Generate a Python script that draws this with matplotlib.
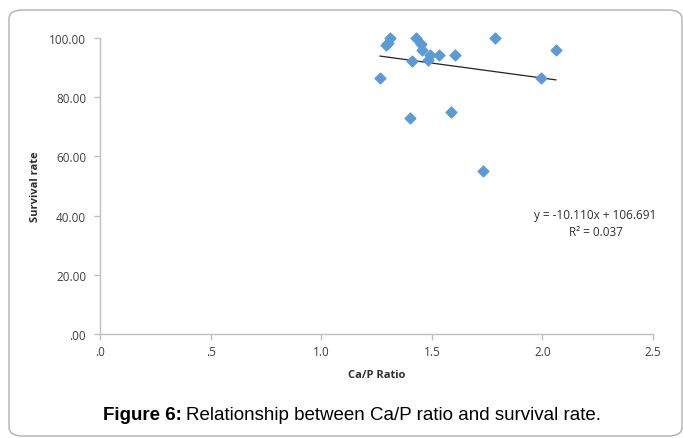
import matplotlib
matplotlib.use('Agg')
import matplotlib.pyplot as plt
from matplotlib.patches import FancyBboxPatch
from matplotlib.ticker import FuncFormatter

# Ca/P ratio vs survival rate
ca_p_ratio = [1.266, 1.293, 1.302, 1.311, 1.401, 1.410, 1.429, 1.451, 1.456,
              1.483, 1.492, 1.533, 1.587, 1.605, 1.731, 1.786, 1.994, 2.061]
survival = [86.5, 97.6, 98.3, 100.0, 73.0, 92.2, 100.0, 98.0, 96.0,
            92.4, 94.3, 94.3, 75.0, 94.3, 55.0, 100.0, 86.5, 96.0]

slope = -10.110
intercept = 106.691
r2 = 0.037

W, H = 683, 439
fig = plt.figure(figsize=(W / 100, H / 100), dpi=100)

# rounded frame around the chart
frame = FancyBboxPatch((9 / W, 2 / H), 673 / W, 426 / H,
                       boxstyle="round,pad=0,rounding_size=0.02",
                       transform=fig.transFigure, fill=False,
                       edgecolor='#b0b0b0', linewidth=1.0, clip_on=False)
fig.patches.append(frame)

ax = fig.add_axes([100 / W, (H - 335) / H, 553 / W, 296 / H])

ax.scatter(ca_p_ratio, survival, marker='D', s=30, color='#5b9bd5',
           edgecolors='#5b9bd5', zorder=3, clip_on=False)

x0, x1 = min(ca_p_ratio), max(ca_p_ratio)
ax.plot([x0, x1], [slope * x0 + intercept, slope * x1 + intercept],
        color='#222222', linewidth=0.9, zorder=2)

ax.set_xlim(0, 2.5)
ax.set_ylim(0, 100)
ax.set_xticks([0, 0.5, 1.0, 1.5, 2.0, 2.5])
ax.set_yticks([0, 20, 40, 60, 80, 100])


def fmt_x(v, pos):
    s = f"{v:.1f}"
    return s[1:] if s.startswith('0') else s


def fmt_y(v, pos):
    s = f"{v:.2f}"
    return s[1:] if s.startswith('0') else s


ax.xaxis.set_major_formatter(FuncFormatter(fmt_x))
ax.yaxis.set_major_formatter(FuncFormatter(fmt_y))

for side in ['top', 'right']:
    ax.spines[side].set_visible(False)
for side in ['left', 'bottom']:
    ax.spines[side].set_color('#bfbfbf')
    ax.spines[side].set_linewidth(1.0)

ax.tick_params(axis='both', colors='#bfbfbf', length=4, width=1,
               labelcolor='#404040', labelsize=8.5)
ax.tick_params(axis='x', pad=4)
ax.tick_params(axis='y', pad=6)
for lab in ax.get_xticklabels() + ax.get_yticklabels():
    lab.set_fontfamily('Open Sans')

ax.set_xlabel('Ca/P Ratio', fontsize=8, fontweight='bold', family='Open Sans',
              color='#303030', labelpad=8)
ax.set_ylabel('Survival rate', fontsize=8, fontweight='bold', family='Open Sans',
              color='#303030', labelpad=6)

ax.text(2.24, 40.3, f"y = {slope:.3f}x + {intercept:.3f}", fontsize=8.5,
        family='Open Sans', color='#303030', ha='center', va='center')
ax.text(2.24, 34.6, f"R² = {r2:.3f}", fontsize=8.5,
        family='Open Sans', color='#303030', ha='center', va='center')

fig.text(103 / W, 1 - 415 / H, 'Figure 6:', fontsize=13.5, fontweight='bold',
         family='Liberation Sans', va='center', ha='left')
fig.text(186 / W, 1 - 415 / H, 'Relationship between Ca/P ratio and survival rate.',
         fontsize=13.5, family='Liberation Sans', va='center', ha='left')

fig.savefig('out.png', dpi=100)
